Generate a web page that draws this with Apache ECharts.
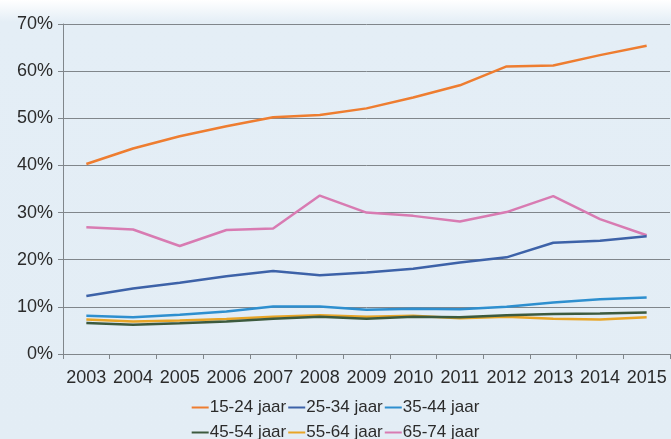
<!DOCTYPE html>
<html>
<head>
<meta charset="utf-8">
<script src="https://cdn.jsdelivr.net/npm/echarts@6/dist/echarts.min.js"></script>
<style>
  html, body { margin: 0; padding: 0; }
  #myChart { width: 671px; height: 439px; }
</style>
</head>
<body>
<div id="myChart"></div>
<script>
  var years = ['2003', '2004', '2005', '2006', '2007', '2008', '2009', '2010', '2011', '2012', '2013', '2014', '2015']
  var names = ['15-24 jaar', '25-34 jaar', '35-44 jaar', '45-54 jaar', '55-64 jaar', '65-74 jaar']
  var colors = ['#ee7d30', '#3d62a8', '#2e8fcf', '#3c5a3e', '#e8a526', '#d87bb2']

  var age1524 = [40.3, 43.6, 46.2, 48.3, 50.2, 50.7, 52.1, 54.4, 57.0, 61.0, 61.2, 63.4, 65.4]
  var age2534 = [12.3, 13.9, 15.1, 16.5, 17.6, 16.7, 17.3, 18.1, 19.4, 20.5, 23.6, 24.0, 25.0]
  var age3544 = [8.1, 7.8, 8.3, 9.0, 10.1, 10.1, 9.4, 9.6, 9.5, 10.0, 10.9, 11.6, 12.0]
  var age4554 = [6.6, 6.2, 6.5, 6.9, 7.5, 7.9, 7.5, 7.9, 7.8, 8.2, 8.5, 8.6, 8.8]
  var age5564 = [7.3, 6.9, 7.1, 7.4, 7.9, 8.2, 7.9, 8.1, 7.6, 7.9, 7.5, 7.3, 7.8]
  var age6574 = [26.9, 26.4, 22.9, 26.3, 26.6, 33.6, 30.0, 29.3, 28.1, 30.1, 33.5, 28.6, 25.2]

  var seriesData = [age1524, age2534, age3544, age4554, age5564, age6574]

  var myChart = echarts.init(document.getElementById('myChart'))
  var textColor = '#2b2b2b'
  var fontFamily = '"Liberation Sans", Arial, sans-serif'

  var option = {
    backgroundColor: new echarts.graphic.LinearGradient(0, 0, 0, 1, [
      { offset: 0, color: '#ffffff' },
      { offset: 0.05, color: '#e4eef6' },
      { offset: 1, color: '#e3edf5' }
    ]),
    color: colors,
    textStyle: { fontFamily: fontFamily },
    grid: { left: 63, right: 1, top: 24, bottom: 85 },
    legend: [{
      data: names.slice(0, 3),
      top: 394,
      left: 'center',
      icon: 'rect',
      itemWidth: 17,
      itemHeight: 2,
      itemGap: 2,
      textStyle: { color: textColor, fontSize: 17, padding: [0, 0, 0, -4] }
    }, {
      data: names.slice(3),
      top: 419,
      left: 'center',
      icon: 'rect',
      itemWidth: 17,
      itemHeight: 2,
      itemGap: 2,
      textStyle: { color: textColor, fontSize: 17, padding: [0, 0, 0, -4] }
    }],
    xAxis: {
      type: 'category',
      data: years,
      boundaryGap: true,
      axisLine: { lineStyle: { color: '#80868b', width: 1 } },
      axisTick: { show: true, length: 5, lineStyle: { color: '#80868b' } },
      axisLabel: { color: textColor, fontSize: 18, margin: 15, interval: 0 }
    },
    yAxis: {
      type: 'value',
      min: 0,
      max: 70,
      interval: 10,
      axisLine: { show: true, lineStyle: { color: '#80868b', width: 1 } },
      axisTick: { show: true, length: 5, lineStyle: { color: '#80868b' } },
      axisLabel: { color: textColor, fontSize: 18, margin: 10, formatter: '{value}%' },
      splitLine: { show: true, lineStyle: { color: '#80868b', width: 1 } }
    },
    series: names.map(function (n, i) {
      return {
        name: n,
        type: 'line',
        data: seriesData[i],
        symbol: 'none',
        lineStyle: { width: 2.5 },
        z: 10 - i
      }
    })
  }
  myChart.setOption(option)
</script>
</body>
</html>
